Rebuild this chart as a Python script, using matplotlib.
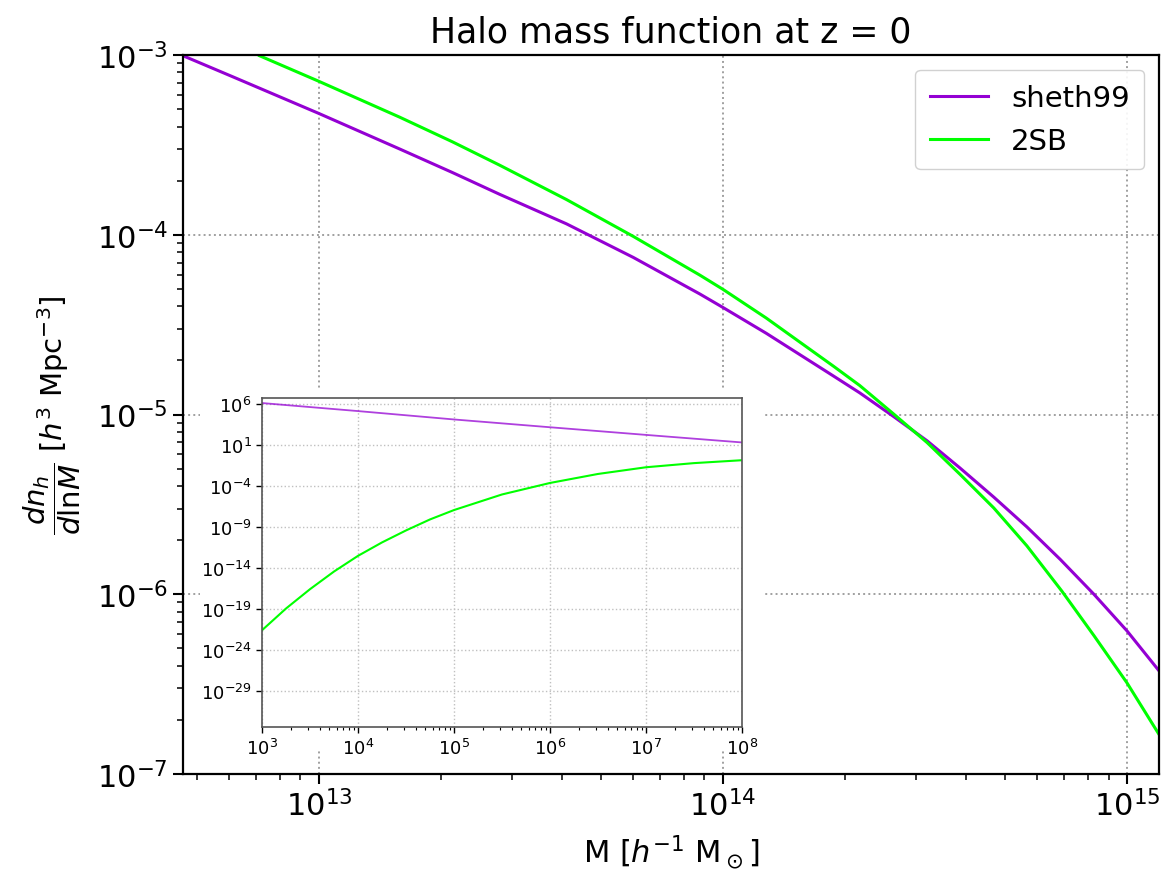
import numpy as np
import matplotlib
matplotlib.use("Agg")
import matplotlib.pyplot as plt
from matplotlib.patches import Rectangle
from matplotlib.ticker import FixedLocator, NullLocator, LogFormatterSciNotation

# main panel
m_sheth = [4.61e12, 6.12e12, 1.0e13, 1.585e13, 2.14e13, 2.80e13, 4.10e13, 6.00e13, 8.77e13,
           1.0e14, 1.28e14, 1.875e14, 2.18e14, 2.64e14, 3.20e14, 3.86e14, 4.68e14, 5.65e14,
           6.84e14, 8.28e14, 1.0e15, 1.20e15]
n_sheth = [9.91e-4, 7.57e-4, 4.73e-4, 3.0e-4, 2.22e-4, 1.68e-4, 1.15e-4, 7.48e-5, 4.68e-5,
           3.94e-5, 2.83e-5, 1.64e-5, 1.32e-5, 9.77e-6, 7.14e-6, 5.04e-6, 3.47e-6, 2.37e-6,
           1.56e-6, 1.0e-6, 6.25e-7, 3.75e-7]

m_2sb = [7.13e12, 1.0e13, 1.585e13, 2.14e13, 2.80e13, 4.10e13, 6.00e13, 8.77e13,
         1.0e14, 1.28e14, 1.875e14, 2.18e14, 2.64e14, 3.20e14, 3.86e14, 4.68e14, 5.65e14,
         6.90e14, 8.28e14, 1.0e15, 1.20e15]
n_2sb = [9.91e-4, 7.14e-4, 4.51e-4, 3.29e-4, 2.44e-4, 1.57e-4, 9.79e-5, 5.96e-5,
         4.97e-5, 3.44e-5, 1.86e-5, 1.45e-5, 1.01e-5, 6.98e-6, 4.65e-6, 3.02e-6, 1.86e-6,
         1.04e-6, 5.89e-7, 3.21e-7, 1.66e-7]

# inset panel
m_in_sheth = [1e3, 1e4, 1e5, 1e6, 1e7, 1e8]
n_in_sheth = [1.2e6, 1.26e5, 1.2e4, 1.35e3, 158, 19]

m_in_2sb = [1e3, 1.78e3, 3.16e3, 5.62e3, 1e4, 1.78e4, 3.16e4, 5.62e4, 1e5, 3.16e5,
            1e6, 3.16e6, 1e7, 3.16e7, 1e8]
n_in_2sb = [2.5e-22, 1.12e-19, 2.5e-17, 3.55e-15, 2.9e-13, 1.26e-11, 3.6e-10, 7.9e-9,
            1.1e-7, 8.7e-6, 2.2e-4, 2.75e-3, 1.8e-2, 5.75e-2, 0.13]
inset_yticks = [1e6, 1e1, 1e-4, 1e-9, 1e-14, 1e-19, 1e-24, 1e-29]

fig = plt.figure(figsize=(11.63, 8.78), dpi=100)
ax = fig.add_axes([0.157, 0.1173, 0.8396, 0.8189])

ax.plot(m_sheth, n_sheth, color='darkviolet', lw=2.2, label='sheth99')
ax.plot(m_2sb, n_2sb, color='lime', lw=2.2, label='2SB')
ax.set_xscale('log')
ax.set_yscale('log')
ax.set_xlim(4.6e12, 1.2e15)
ax.set_ylim(1e-7, 1e-3)
ax.grid(True, which='major', ls=':', color='#a0a0a0', lw=1.4)
for s in ax.spines.values():
    s.set_linewidth(1.6)
ax.tick_params(which='major', labelsize=22, length=7, width=1.5)
ax.tick_params(which='minor', length=4, width=1.1)
ax.set_title('Halo mass function at z = 0', fontsize=25, pad=10)
ax.set_xlabel(r'M [$h^{-1}$ M$_\odot$]', fontsize=22, labelpad=8)
ax.set_ylabel(r'$\dfrac{dn_h}{d\mathrm{ln}M}$ [$h^3$ Mpc$^{-3}$]', fontsize=21, labelpad=10)
ax.legend(loc='upper right', fontsize=21, framealpha=0.9, borderpad=0.5)

# white box behind the inset (covers the main grid lines)
fig.patches.append(Rectangle((0.172, 0.1435), 0.484, 0.4123, transform=fig.transFigure,
                             facecolor='white', edgecolor='none', zorder=0.5))

axi = fig.add_axes([0.2253, 0.1708, 0.4127, 0.3748], zorder=1)
axi.plot(m_in_sheth, n_in_sheth, color='darkviolet', lw=1.3, alpha=0.75)
axi.plot(m_in_2sb, n_in_2sb, color='lime', lw=1.5)
axi.set_xscale('log')
axi.set_yscale('log')
axi.set_xlim(1e3, 1e8)
axi.set_ylim(4e-34, 5e6)
axi.yaxis.set_major_locator(FixedLocator(inset_yticks))
axi.yaxis.set_major_formatter(LogFormatterSciNotation())
axi.yaxis.set_minor_locator(NullLocator())
axi.grid(True, which='major', ls=':', color='#c0c0c0', lw=1.0)
for s in axi.spines.values():
    s.set_linewidth(1.2)
    s.set_color('#555555')
axi.tick_params(which='major', labelsize=13, length=4, width=1)
axi.tick_params(which='minor', length=2.5, width=0.8)

fig.savefig('out.png', dpi=100)
